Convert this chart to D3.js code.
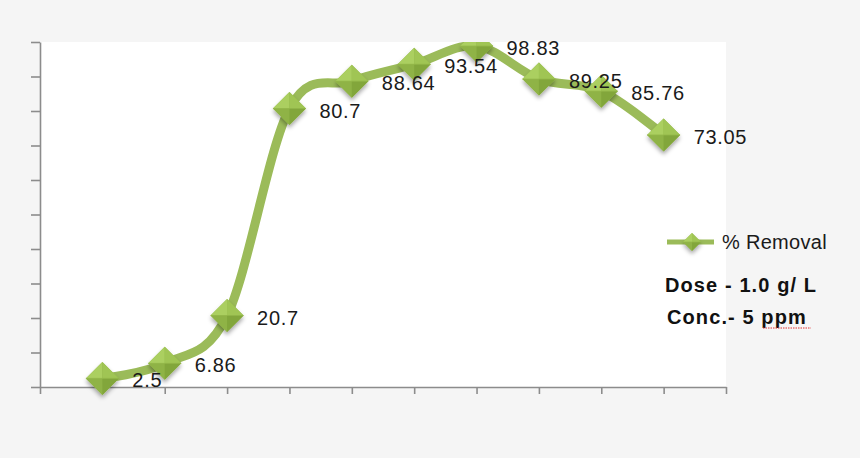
<!DOCTYPE html>
<html>
<head>
<meta charset="utf-8">
<script src="https://cdn.jsdelivr.net/npm/d3@7"></script>
<style>
  html, body { margin: 0; padding: 0; background: #f5f5f5; }
  svg { display: block; font-family: 'Liberation Sans', Arial, sans-serif; }
</style>
</head>
<body>
<svg id="container"></svg>
<script>
// % removal at each step (x positions 1..10, no category labels shown)
const steps = [1, 2, 3, 4, 5, 6, 7, 8, 9, 10]
const removal = [2.5, 6.86, 20.7, 80.7, 88.64, 93.54, 98.83, 89.25, 85.76, 73.05]
const yTicks = [0, 10, 20, 30, 40, 50, 60, 70, 80, 90, 100]
const xTicks = [0, 1, 2, 3, 4, 5, 6, 7, 8, 9, 10, 11]
const seriesName = '% Removal'
const notes = ['Dose - 1.0 g/ L', 'Conc.- 5 ppm']

const W = 860,
  H = 458
const margin = { top: 42, right: 134, bottom: 71, left: 40 },
  w = W - margin.left - margin.right,
  h = H - margin.top - margin.bottom

const green = '#9bbb59'

let svg = d3.select('#container').attr('width', W).attr('height', H)

let defs = svg.append('defs')
defs
  .append('clipPath')
  .attr('id', 'clip')
  .append('rect')
  .attr('width', w)
  .attr('height', h + 20)

let shadow = defs.append('filter').attr('id', 'shadow').attr('x', '-50%').attr('y', '-50%').attr('width', '200%').attr('height', '200%')
shadow
  .append('feDropShadow')
  .attr('dx', 0)
  .attr('dy', 3)
  .attr('stdDeviation', 2)
  .attr('flood-color', '#000')
  .attr('flood-opacity', 0.35)

let g = svg.append('g').attr('transform', `translate(${margin.left},${margin.top})`)

// white plot area
g.append('rect').attr('width', w).attr('height', h).attr('fill', '#fff')

let xScale = d3.scaleLinear().domain([0, 11]).range([0, w])
let yScale = d3.scaleLinear().domain([0, 100]).range([h, 0])

let gY = g
  .append('g')
  .attr('class', 'axis y-axis')
  .call(d3.axisLeft(yScale).tickValues(yTicks).tickFormat('').tickSize(9).tickSizeOuter(0))
let gX = g
  .append('g')
  .attr('class', 'axis x-axis')
  .attr('transform', `translate(0,${h})`)
  .call(d3.axisBottom(xScale).tickValues(xTicks).tickFormat('').tickSize(7).tickSizeOuter(0))
g.selectAll('.axis path, .axis line').attr('stroke', '#8c8c8c').attr('stroke-width', 1.6)

let chartBody = g.append('g').attr('clip-path', 'url(#clip)')

let pts = steps.map((s, i) => [xScale(s), yScale(removal[i])])

chartBody
  .append('path')
  .datum(pts)
  .attr('fill', 'none')
  .attr('stroke', green)
  .attr('stroke-width', 9)
  .attr('stroke-linejoin', 'round')
  .attr('d', d3.line().curve(d3.curveCardinal.tension(0)))

// faceted diamond marker
function diamond(sel, r) {
  let facets = [
    { p: [[-r, 0], [0, -r], [0, 0]], c: '#abcf60' },
    { p: [[0, -r], [r, 0], [0, 0]], c: '#a0c554' },
    { p: [[-r, 0], [0, r], [0, 0]], c: '#8fb346' },
    { p: [[0, r], [r, 0], [0, 0]], c: '#82a63b' },
  ]
  sel
    .append('path')
    .attr('d', `M${-r},0L0,${-r}L${r},0L0,${r}Z`)
    .attr('fill', '#8fb346')
    .attr('filter', 'url(#shadow)')
  sel
    .selectAll('.facet')
    .data(facets)
    .enter()
    .append('path')
    .attr('class', 'facet')
    .attr('d', (d) => 'M' + d.p.join('L') + 'Z')
    .attr('fill', (d) => d.c)
  sel
    .append('path')
    .attr('d', `M${-r},0L${r},0`)
    .attr('stroke', '#94b84a')
    .attr('stroke-width', 0.8)
}

chartBody
  .selectAll('.marker')
  .data(pts)
  .enter()
  .append('g')
  .attr('class', 'marker')
  .attr('transform', (d) => `translate(${d[0]},${d[1]})`)
  .call(diamond, 16.5)

// data labels, right of each point
g.selectAll('.label')
  .data(removal)
  .enter()
  .append('text')
  .attr('class', 'label')
  .attr('x', (d, i) => xScale(steps[i]) + 30)
  .attr('y', (d) => yScale(d) + 9)
  .attr('font-size', 20)
  .attr('letter-spacing', 0.7)
  .attr('fill', '#1a1a1a')
  .text((d) => d)

// legend
let legend = svg.append('g').attr('transform', 'translate(667,242)')
legend
  .append('line')
  .attr('x1', 0)
  .attr('x2', 47)
  .attr('stroke', green)
  .attr('stroke-width', 5)
legend.append('g').attr('transform', 'translate(25,0)').call(diamond, 9)
legend
  .append('text')
  .attr('x', 55)
  .attr('y', 7)
  .attr('font-size', 20)
  .attr('letter-spacing', 0.3)
  .attr('fill', '#1a1a1a')
  .text(seriesName)

svg
  .selectAll('.note')
  .data(notes)
  .enter()
  .append('text')
  .attr('class', 'note')
  .attr('x', (d, i) => [665, 667][i])
  .attr('y', (d, i) => [292, 324][i])
  .attr('font-size', 20)
  .attr('font-weight', 'bold')
  .attr('letter-spacing', 1.1)
  .attr('fill', '#111')
  .text((d) => d)

// spell-check squiggle under "ppm"
svg
  .append('line')
  .attr('x1', 763)
  .attr('x2', 811)
  .attr('y1', 328)
  .attr('y2', 328)
  .attr('stroke', '#e03030')
  .attr('stroke-width', 1)
  .attr('stroke-dasharray', '1.5,1')
</script>
</body>
</html>
